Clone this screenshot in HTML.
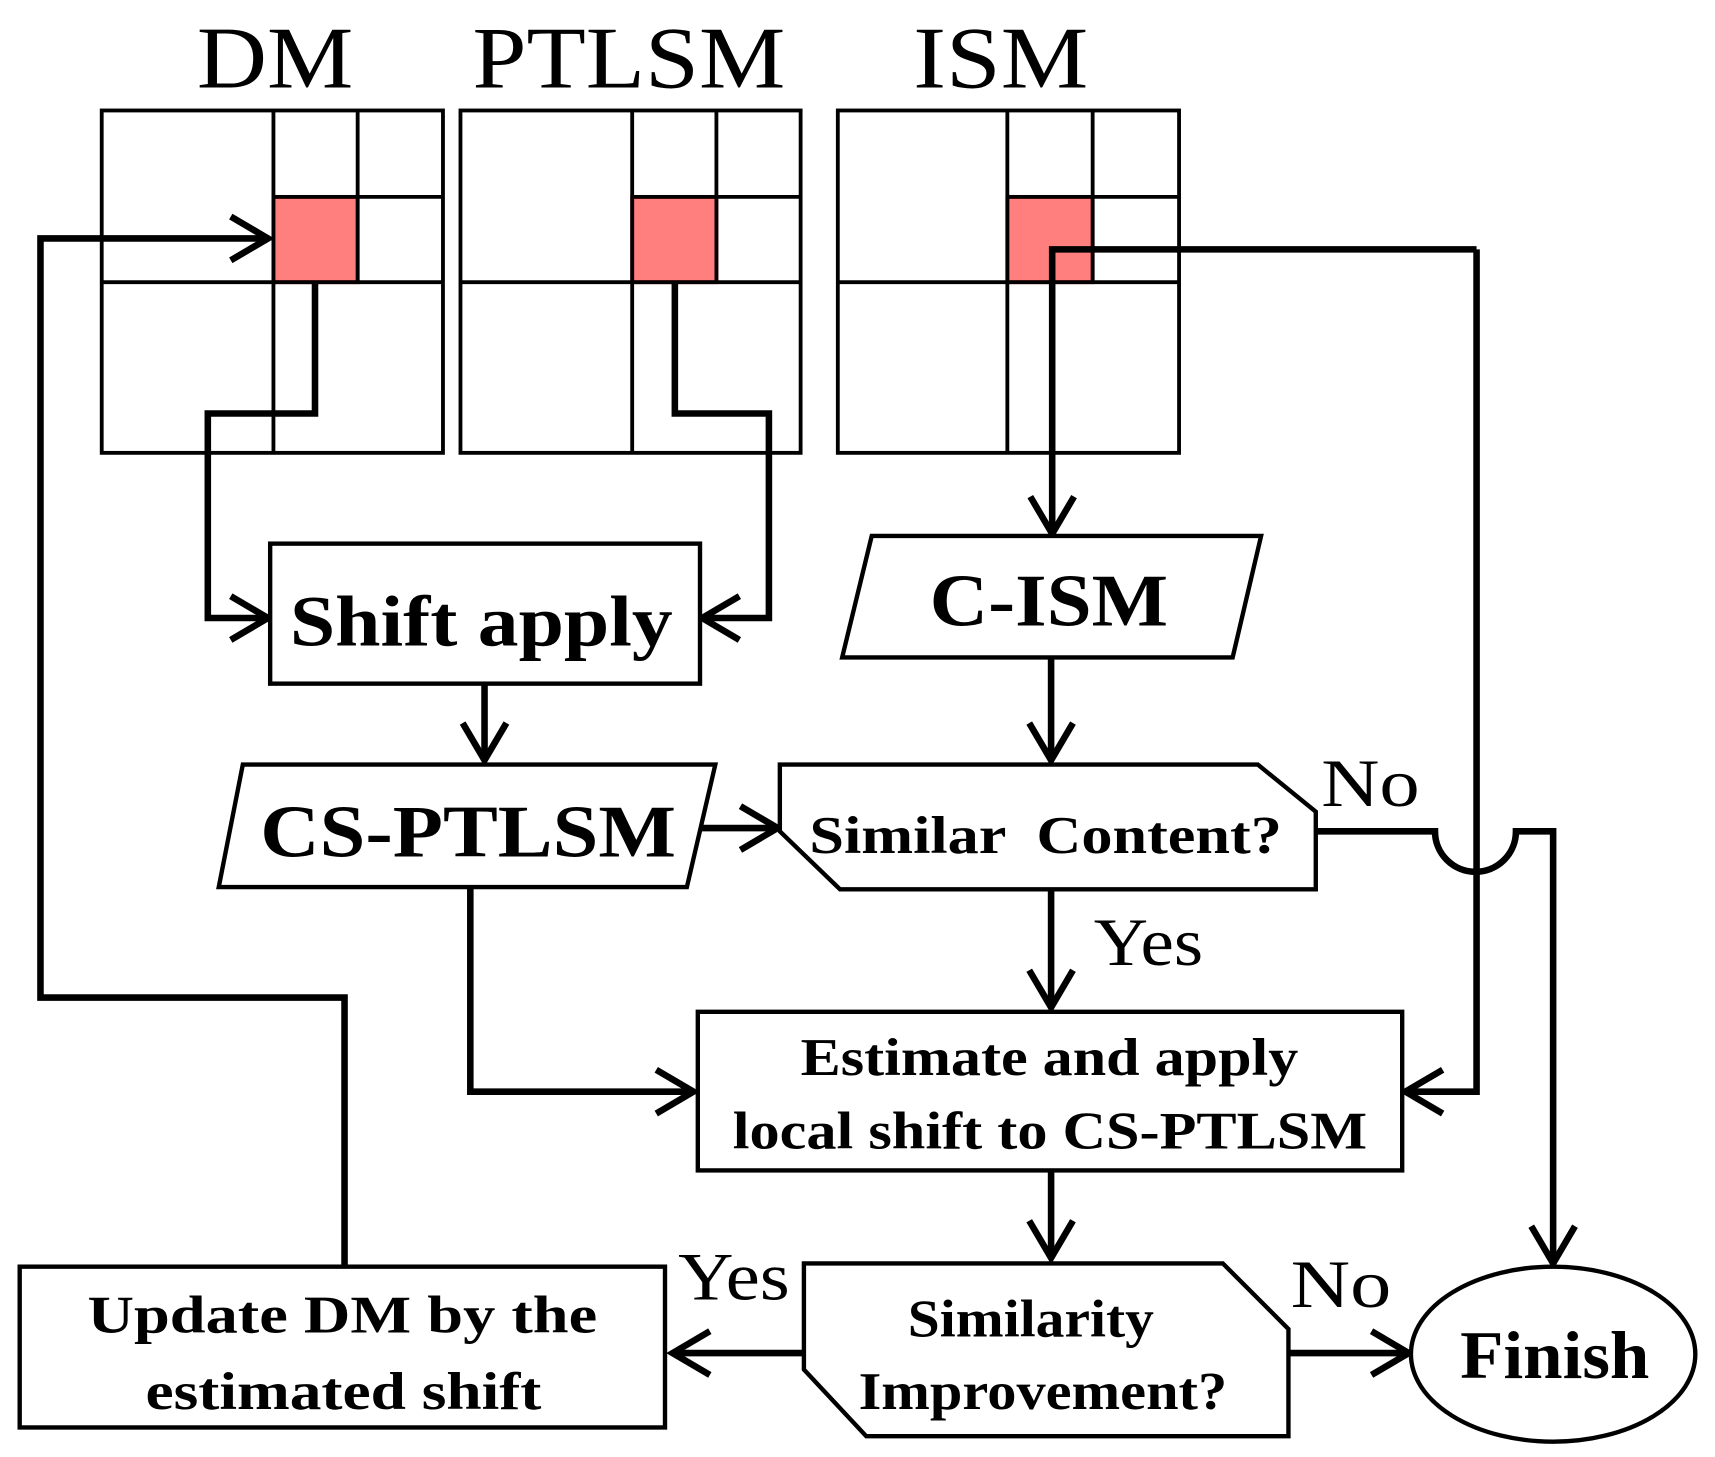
<!DOCTYPE html>
<html><head><meta charset="utf-8"><style>
html,body{margin:0;padding:0;background:#fff}
svg{display:block}
text{font-family:"Liberation Serif",serif;fill:#000}
</style></head><body>
<svg width="1715" height="1457" viewBox="0 0 1568 1332" preserveAspectRatio="none" xmlns="http://www.w3.org/2000/svg">
<defs>
<marker id="a" markerUnits="userSpaceOnUse" markerWidth="60" markerHeight="60" refX="42" refY="30" orient="auto">
<path d="M8,10 L42,30 L8,50" fill="none" stroke="#000" stroke-width="6"/>
</marker>
</defs>
<g font-size="80">
<text x="180" y="80" textLength="143" lengthAdjust="spacingAndGlyphs">DM</text>
<text x="432" y="80" textLength="286" lengthAdjust="spacingAndGlyphs">PTLSM</text>
<text x="835" y="80" textLength="160" lengthAdjust="spacingAndGlyphs">ISM</text>
</g>
<g fill="none" stroke="#000" stroke-width="3.5">
<rect x="250" y="180" width="77" height="78" fill="#ff7f7f" stroke="#c00"/>
<rect x="578" y="180" width="77" height="78" fill="#ff7f7f" stroke="#c00"/>
<rect x="921" y="180" width="78" height="78" fill="#ff7f7f" stroke="#c00"/>
<rect x="93" y="101" width="312" height="313"/>
<path d="M250 101V414M327 101V258M93 258H405M250 180H405"/>
<rect x="421" y="101" width="311" height="313"/>
<path d="M578 101V414M655 101V258M421 258H732M578 180H732"/>
<rect x="766" y="101" width="312" height="313"/>
<path d="M921 101V414M999 101V258M766 258H1078M921 180H1078"/>
</g>
<g fill="none" stroke="#000" stroke-width="6">
<path d="M315 1158V912H37V218H245" marker-end="url(#a)"/>
<path d="M288 258V378H190V565H245" marker-end="url(#a)"/>
<path d="M617 258V378H703V565H642" marker-end="url(#a)"/>
<path d="M1350 228H962V488" marker-end="url(#a)"/>
<path d="M1350 228V998H1285" marker-end="url(#a)"/>
<path d="M443 625V695" marker-end="url(#a)"/>
<path d="M640 757H711" marker-end="url(#a)"/>
<path d="M961 601V695" marker-end="url(#a)"/>
<path d="M961 813V921" marker-end="url(#a)"/>
<path d="M430 811V998H634" marker-end="url(#a)"/>
<path d="M961 1070V1150" marker-end="url(#a)"/>
<path d="M735 1237H615" marker-end="url(#a)"/>
<path d="M1178 1237H1288" marker-end="url(#a)"/>
<path d="M1203 760H1312A37 37 0 0 0 1386 760H1420V1155" marker-end="url(#a)"/>
</g>
<g fill="#fff" stroke="#000" stroke-width="4">
<rect x="247" y="497" width="393" height="128"/>
<polygon points="222,699 654,699 628,811 200,811"/>
<polygon points="797,490 1153,490 1127,601 770,601"/>
<polygon points="713,699 1150,699 1203,742 1203,813 768,813 713,760"/>
<rect x="638" y="925" width="644" height="145"/>
<polygon points="735,1155 1118,1155 1178,1215 1178,1313 792,1313 735,1252"/>
<rect x="18" y="1158" width="590" height="147"/>
<ellipse cx="1420" cy="1238" rx="130" ry="80"/>
</g>
<g font-weight="bold">
<text x="265" y="590" font-size="66" textLength="350" lengthAdjust="spacingAndGlyphs">Shift apply</text>
<text x="238" y="783" font-size="68" textLength="380" lengthAdjust="spacingAndGlyphs">CS-PTLSM</text>
<text x="850" y="572" font-size="68" textLength="218" lengthAdjust="spacingAndGlyphs">C-ISM</text>
<text x="740" y="780" font-size="48" textLength="432" lengthAdjust="spacingAndGlyphs" xml:space="preserve">Similar  Content?</text>
<text x="732" y="983" font-size="48" textLength="455" lengthAdjust="spacingAndGlyphs">Estimate and apply</text>
<text x="670" y="1050" font-size="48" textLength="580" lengthAdjust="spacingAndGlyphs">local shift to CS-PTLSM</text>
<text x="830" y="1222" font-size="48" textLength="225" lengthAdjust="spacingAndGlyphs">Similarity</text>
<text x="785" y="1288" font-size="48" textLength="337" lengthAdjust="spacingAndGlyphs">Improvement?</text>
<text x="80" y="1218" font-size="48" textLength="466" lengthAdjust="spacingAndGlyphs">Update DM by the</text>
<text x="133" y="1288" font-size="48" textLength="362" lengthAdjust="spacingAndGlyphs">estimated shift</text>
<text x="1335" y="1260" font-size="62" textLength="173" lengthAdjust="spacingAndGlyphs">Finish</text>
</g>
<g font-size="62">
<text x="1208" y="737" textLength="90" lengthAdjust="spacingAndGlyphs">No</text>
<text x="1000" y="882" textLength="100" lengthAdjust="spacingAndGlyphs">Yes</text>
<text x="620" y="1188" textLength="102" lengthAdjust="spacingAndGlyphs">Yes</text>
<text x="1180" y="1195" textLength="92" lengthAdjust="spacingAndGlyphs">No</text>
</g>
</svg>
</body></html>
